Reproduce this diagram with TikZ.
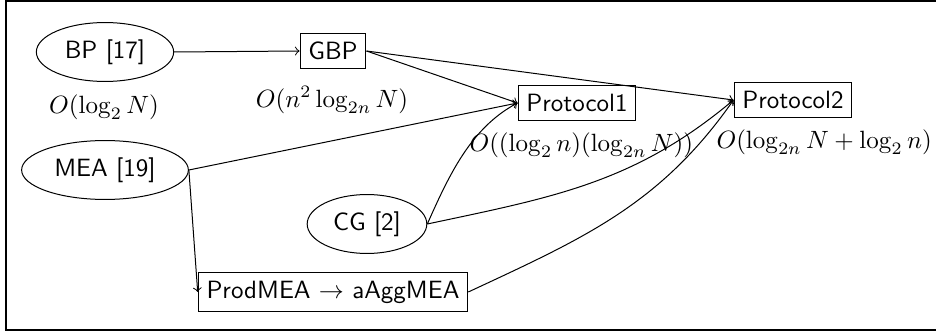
\documentclass[tikz,border=0pt]{standalone}
\usetikzlibrary{shapes.geometric}
\begin{document}
\begin{tikzpicture}[x=0.4pt,y=-0.4pt,
  ell/.style={draw,ellipse,font=\sffamily},
  boxnode/.style={draw,rectangle,font=\sffamily},
  lbl/.style={inner sep=0pt},
  conn/.style={->,line width=0.4pt}]
\useasboundingbox (0,0) rectangle (936,333);
\draw[line width=0.6pt] (6,1) rectangle (945,330);
\node[ell] (bp) at (105,52) {BP [17]};
\node[boxnode] (gbp) at (333,51) {GBP};
\node[boxnode] (p1) at (577,103) {Protocol1};
\node[boxnode] (p2) at (793,100) {Protocol2};
\node[ell] (mea) at (105,170) {MEA [19]};
\node[ell] (cg) at (367,224) {CG [2]};
\node[boxnode] (prod) at (333,292) {ProdMEA $\rightarrow$ aAggMEA};
\node[lbl] (l1) at (104,107) {$O(\log_2 N)$};
\node[lbl] (l2) at (332,100) {$O(n^2\log_{2n} N)$};
\node[lbl,anchor=west] (l3) at (469,145) {$O((\log_2 n)(\log_{2n} N))$};
\node[lbl,anchor=west] (l4) at (716,142) {$O(\log_{2n} N+\log_2 n)$};
\draw[conn] (bp.east) -- (gbp.west);
\draw[conn] (gbp.east) -- (p1.west);
\draw[conn] (gbp.east) -- (p2.west);
\draw[conn] (mea.east) -- (p1.west);
\draw[conn] (mea.east) -- (prod.west);
\draw[conn] (cg.east) to[out=66,in=208,looseness=0.9] (p1.west);
\draw[conn] (cg.east) to[out=12,in=220] (p2.west);
\draw[conn] (prod.east) to[out=25,in=235] (p2.west);
\end{tikzpicture}
\end{document}
